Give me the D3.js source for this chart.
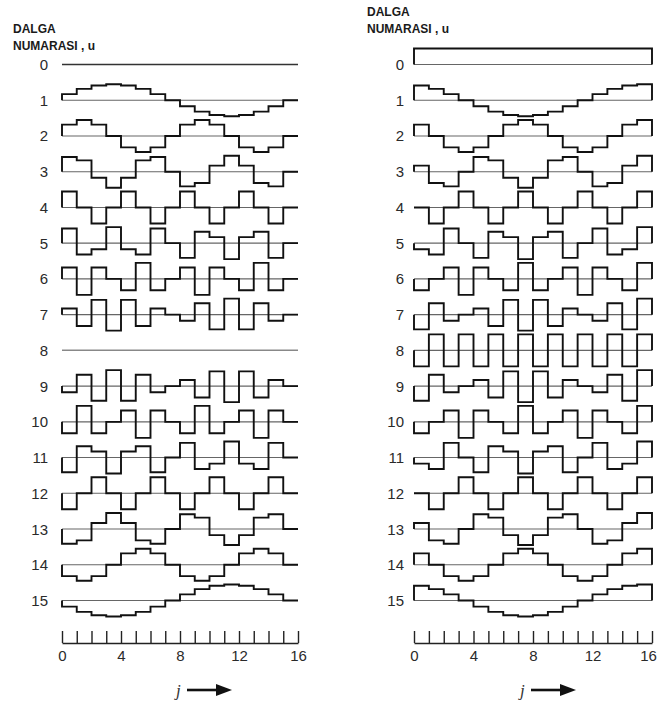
<!DOCTYPE html>
<html>
<head>
<meta charset="utf-8">
<script src="https://cdn.jsdelivr.net/npm/d3@7"></script>
<style>
  html, body { margin: 0; padding: 0; background: #fff; }
  svg { display: block; }
</style>
</head>
<body>
<svg id="chart" width="658" height="703"></svg>
<script>
// ---- data -------------------------------------------------------------
const waveLabels = ["0","1","2","3","4","5","6","7","8","9","10","11","12","13","14","15"];
const sampleIndex = [0,1,2,3,4,5,6,7,8,9,10,11,12,13,14,15];
const tickValues = [0,1,2,3,4,5,6,7,8,9,10,11,12,13,14,15,16];
const tickLabels = ["0","","","","4","","","","8","","","","12","","","","16"];
const titleLines = ["DALGA", "NUMARASI , u"];
const axisName = "j";

// left panel: sine (imaginary) parts, one array per wave number
const sineWaves = [
  [0,0,0,0,0,0,0,0,0,0,0,0,0,0,0,0],
  [.38,.71,.92,1,.92,.71,.38,0,-.38,-.71,-.92,-1,-.92,-.71,-.38,0],
  [.71,1,.71,0,-.71,-1,-.71,0,.71,1,.71,0,-.71,-1,-.71,0],
  [.92,.71,-.38,-1,-.38,.71,.92,0,-.92,-.71,.38,1,.38,-.71,-.92,0],
  [1,0,-1,0,1,0,-1,0,1,0,-1,0,1,0,-1,0],
  [.92,-.71,-.38,1,-.38,-.71,.92,0,-.92,.71,.38,-1,.38,.71,-.92,0],
  [.71,-1,.71,0,-.71,1,-.71,0,.71,-1,.71,0,-.71,1,-.71,0],
  [.38,-.71,.92,-1,.92,-.71,.38,0,-.38,.71,-.92,1,-.92,.71,-.38,0],
  [0,0,0,0,0,0,0,0,0,0,0,0,0,0,0,0],
  [-.38,.71,-.92,1,-.92,.71,-.38,0,.38,-.71,.92,-1,.92,-.71,.38,0],
  [-.71,1,-.71,0,.71,-1,.71,0,-.71,1,-.71,0,.71,-1,.71,0],
  [-.92,.71,.38,-1,.38,.71,-.92,0,.92,-.71,-.38,1,-.38,-.71,.92,0],
  [-1,0,1,0,-1,0,1,0,-1,0,1,0,-1,0,1,0],
  [-.92,-.71,.38,1,.38,-.71,-.92,0,.92,.71,-.38,-1,-.38,.71,.92,0],
  [-.71,-1,-.71,0,.71,1,.71,0,-.71,-1,-.71,0,.71,1,.71,0],
  [-.38,-.71,-.92,-1,-.92,-.71,-.38,0,.38,.71,.92,1,.92,.71,.38,0]
];

// right panel: cosine (real) parts
const cosineWaves = [
  [1,1,1,1,1,1,1,1,1,1,1,1,1,1,1,1],
  [.92,.71,.38,0,-.38,-.71,-.92,-1,-.92,-.71,-.38,0,.38,.71,.92,1],
  [.71,0,-.71,-1,-.71,0,.71,1,.71,0,-.71,-1,-.71,0,.71,1],
  [.38,-.71,-.92,0,.92,.71,-.38,-1,-.38,.71,.92,0,-.92,-.71,.38,1],
  [0,-1,0,1,0,-1,0,1,0,-1,0,1,0,-1,0,1],
  [-.38,-.71,.92,0,-.92,.71,.38,-1,.38,.71,-.92,0,.92,-.71,-.38,1],
  [-.71,0,.71,-1,.71,0,-.71,1,-.71,0,.71,-1,.71,0,-.71,1],
  [-.92,.71,-.38,0,.38,-.71,.92,-1,.92,-.71,.38,0,-.38,.71,-.92,1],
  [-1,1,-1,1,-1,1,-1,1,-1,1,-1,1,-1,1,-1,1],
  [-.92,.71,-.38,0,.38,-.71,.92,-1,.92,-.71,.38,0,-.38,.71,-.92,1],
  [-.71,0,.71,-1,.71,0,-.71,1,-.71,0,.71,-1,.71,0,-.71,1],
  [-.38,-.71,.92,0,-.92,.71,.38,-1,.38,.71,-.92,0,.92,-.71,-.38,1],
  [0,-1,0,1,0,-1,0,1,0,-1,0,1,0,-1,0,1],
  [.38,-.71,-.92,0,.92,.71,-.38,-1,-.38,.71,.92,0,-.92,-.71,.38,1],
  [.71,0,-.71,-1,-.71,0,.71,1,.71,0,-.71,-1,-.71,0,.71,1],
  [.92,.71,.38,0,-.38,-.71,-.92,-1,-.92,-.71,-.38,0,.38,.71,.92,1]
];

// ---- drawing ----------------------------------------------------------
const svg = d3.select("#chart");
svg.append("rect").attr("width", 658).attr("height", 703).attr("fill", "#fff");

const rowY = d3.scaleLinear().domain([0, 15]).range([64.5, 600.5]);
const amp = d3.scaleLinear().domain([-1, 1]).range([16, -16]);

function panel(cfg) {
  const g = svg.append("g");
  const x = d3.scaleLinear().domain([0, 16]).range([cfg.x0, cfg.x1]);

  // title
  const t = g.append("text")
    .attr("x", cfg.titleX).attr("y", cfg.titleY)
    .attr("font-family", "'Liberation Sans', Arial, sans-serif")
    .attr("font-weight", "bold").attr("font-size", 12).attr("fill", "#1a1a1a");
  titleLines.forEach((s, i) => {
    t.append("tspan").attr("x", cfg.titleX).attr("dy", i === 0 ? 0 : 16.5).text(s);
  });

  cfg.waves.forEach((vals, u) => {
    const base = rowY(u);
    const flat = vals.every(v => v === 0);
    const row = g.append("g").attr("transform", `translate(0,${base})`);
    // baseline
    row.append("line")
      .attr("x1", x(0)).attr("x2", x(16)).attr("y1", 0).attr("y2", 0)
      .attr("stroke", "#666").attr("stroke-width", 1.1);
    // stepped wave
    const pts = [[0, 0]]
      .concat(sampleIndex.map(j => [j, vals[j]]))
      .concat([[16, vals[15]], [16, 0]]);
    const line = d3.line()
      .x(d => x(d[0])).y(d => amp(d[1]))
      .curve(d3.curveStepAfter);
    row.append("path")
      .attr("d", line(pts))
      .attr("fill", "none")
      .attr("stroke", flat ? (u === 0 ? "#333" : "#888") : "#111")
      .attr("stroke-width", flat ? (u === 0 ? 1.5 : 1.1) : 1.9)
      .attr("stroke-linejoin", "miter");
    // wave number label
    row.append("text")
      .attr("x", cfg.labelX).attr("y", 5.5)
      .attr("text-anchor", "end")
      .attr("font-family", "'Liberation Sans', Arial, sans-serif")
      .attr("font-size", 15).attr("fill", "#2a2a2a")
      .text(waveLabels[u]);
  });

  // j ruler axis
  const axis = d3.axisBottom(x)
    .tickValues(tickValues)
    .tickSize(-12).tickSizeOuter(0).tickPadding(7)
    .tickFormat((d, i) => tickLabels[i]);
  const ax = g.append("g").attr("transform", "translate(0,643)").call(axis);
  ax.select(".domain").attr("stroke", "#222").attr("stroke-width", 1.6);
  ax.selectAll(".tick line").attr("stroke", "#222").attr("stroke-width", 1.4);
  ax.selectAll(".tick text")
    .attr("font-family", "'Liberation Sans', Arial, sans-serif")
    .attr("font-size", 15).attr("fill", "#2a2a2a")
    .attr("dx", d => (d === 16 ? cfg.lastDx : 0));

  // j →
  g.append("text")
    .attr("x", cfg.jX).attr("y", 696)
    .attr("font-family", "'Liberation Serif', 'Times New Roman', serif")
    .attr("font-style", "italic").attr("font-size", 17).attr("fill", "#333")
    .text(axisName);
  g.append("line")
    .attr("x1", cfg.jX + 11).attr("x2", cfg.jX + 42).attr("y1", 690).attr("y2", 690)
    .attr("stroke", "#111").attr("stroke-width", 2.6);
  g.append("path")
    .attr("d", `M${cfg.jX + 40},684 L${cfg.jX + 56},690 L${cfg.jX + 40},696 Z`)
    .attr("fill", "#111");
}

panel({ waves: sineWaves, x0: 62, x1: 298, labelX: 48, titleX: 13, titleY: 33, jX: 176, lastDx: 0 });
panel({ waves: cosineWaves, x0: 414, x1: 652, labelX: 404, titleX: 367, titleY: 16, jX: 520, lastDx: -4 });
</script>
</body>
</html>
